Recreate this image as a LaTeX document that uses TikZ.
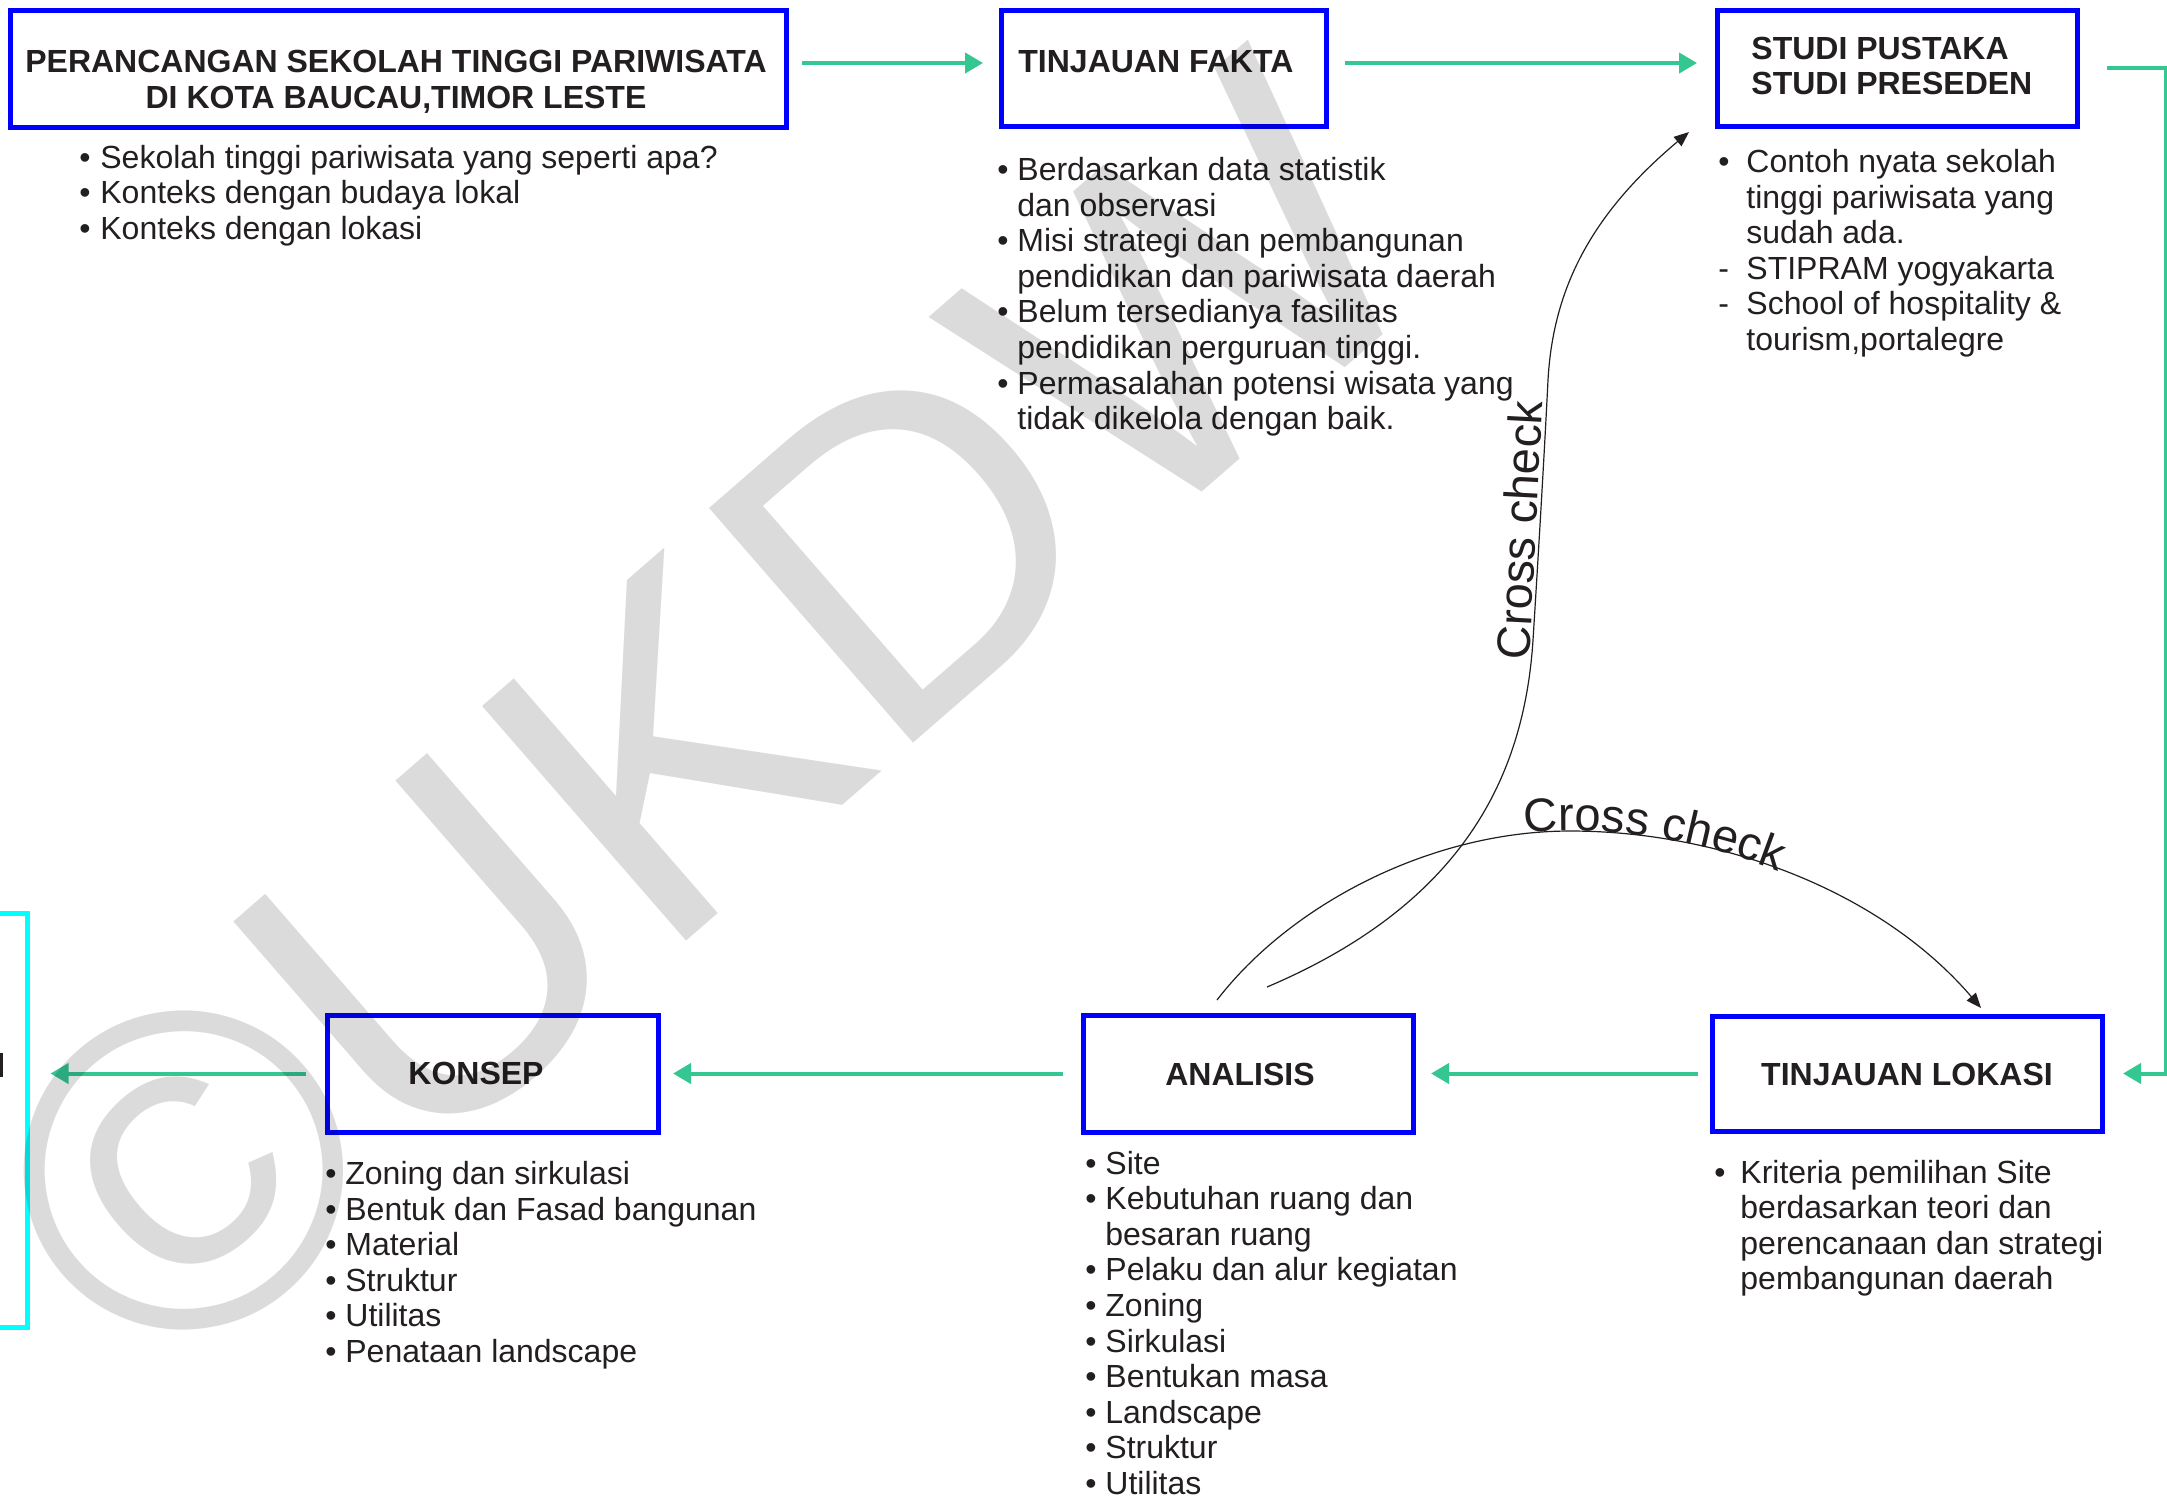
\documentclass[tikz,border=0pt]{standalone}
\usepackage{fontspec}
\setmainfont{Liberation Sans}
\usepackage{array}
\usetikzlibrary{arrows.meta,decorations.text}
\definecolor{txt}{RGB}{35,31,32}
\definecolor{gline}{RGB}{52,199,146}
\definecolor{bbox}{RGB}{0,0,255}
\definecolor{cbox}{RGB}{0,255,255}
\tikzset{
  bluebox/.style={draw=bbox, line width=2.5pt, inner sep=0pt, outer sep=0pt},
  ttl/.style={font=\fontsize{16}{17.8}\selectfont\bfseries, text=txt, inner sep=0pt},
  lst/.style={font=\fontsize{16}{17.8}\selectfont, text=txt, inner sep=0pt, anchor=base west},
  garrow/.style={draw=gline, line width=2pt, -{Triangle[length=9pt,width=10pt]}},
  karrow/.style={draw=txt, line width=0.6pt, -{Triangle[length=7.5pt,width=6pt]}},
  cc/.style={font=\fontsize{23.5}{28}\selectfont, text=txt, inner sep=0pt},
}
\begin{document}
\begin{tikzpicture}[x=0.5pt,y=-0.5pt]
\useasboundingbox (0,0) rectangle (2167,1500);
\clip (0,0) rectangle (2167,1500);
\fill[white] (0,0) rectangle (2167,1500);

% boxes
\node[bluebox, minimum width=388pt, minimum height=58.5pt] (b1) at (398,68.5) {};
\node[bluebox, minimum width=162.5pt, minimum height=58pt] (b2) at (1163.5,68) {};
\node[bluebox, minimum width=180pt, minimum height=58pt] (b3) at (1897,68) {};
\node[bluebox, minimum width=195pt, minimum height=57.5pt] (lok) at (1907,1073.5) {};
\node[bluebox, minimum width=165pt, minimum height=58.5pt] (ana) at (1248,1073.5) {};
\node[bluebox, minimum width=165.5pt, minimum height=58.5pt] (kon) at (492.5,1073.5) {};
\node[draw=cbox, line width=2.5pt, minimum width=163.5pt, minimum height=207pt, inner sep=0pt] (cyan) at (-136.5,1120) {};

% titles
\node[ttl, anchor=base] (b1t) at (396,72.5) {\begin{tabular}[t]{@{}c@{}}PERANCANGAN SEKOLAH TINGGI PARIWISATA\\DI KOTA BAUCAU,TIMOR LESTE\end{tabular}};
\node[ttl, anchor=base west] (b2t) at (1018,72.5) {TINJAUAN FAKTA};
\node[ttl, anchor=base west] (b3t) at (1751,59) {\begin{tabular}[t]{@{}l@{}}STUDI PUSTAKA\\STUDI PRESEDEN\end{tabular}};
\node[ttl, anchor=base] (lokt) at (1907,1085.5) {TINJAUAN LOKASI};
\node[ttl, anchor=base] (anat) at (1240,1085) {ANALISIS};
\node[ttl, anchor=base] (kont) at (476,1084.5) {KONSEP};

% lists
\node[lst] (l1) at (79,168) {\begin{tabular}[t]{@{}w{l}{10.5pt}@{}l@{}}
\textbullet & Sekolah tinggi pariwisata yang seperti apa?\\
\textbullet & Konteks dengan budaya lokal\\
\textbullet & Konteks dengan lokasi
\end{tabular}};
\node[lst] (l2) at (997,180.5) {\begin{tabular}[t]{@{}w{l}{10pt}@{}l@{}}
\textbullet & Berdasarkan data statistik\\
 & dan observasi\\
\textbullet & Misi strategi dan pembangunan\\
 & pendidikan dan pariwisata daerah\\
\textbullet & Belum tersedianya fasilitas\\
 & pendidikan perguruan tinggi.\\
\textbullet & Permasalahan potensi wisata yang\\
 & tidak dikelola dengan baik.
\end{tabular}};
\node[lst] (l3) at (1718,172.5) {\begin{tabular}[t]{@{}w{l}{14pt}@{}l@{}}
\textbullet & Contoh nyata sekolah\\
 & tinggi pariwisata yang\\
 & sudah ada.\\
- & STIPRAM yogyakarta\\
- & School of hospitality \&\\
 & tourism,portalegre
\end{tabular}};
\node[lst] (l4) at (1714,1183) {\begin{tabular}[t]{@{}w{l}{13pt}@{}l@{}}
\textbullet & Kriteria pemilihan Site\\
 & berdasarkan teori dan\\
 & perencanaan dan strategi\\
 & pembangunan daerah
\end{tabular}};
\node[lst] (l5) at (1085,1174) {\begin{tabular}[t]{@{}w{l}{10pt}@{}l@{}}
\textbullet & Site\\
\textbullet & Kebutuhan ruang dan\\
 & besaran ruang\\
\textbullet & Pelaku dan alur kegiatan\\
\textbullet & Zoning\\
\textbullet & Sirkulasi\\
\textbullet & Bentukan masa\\
\textbullet & Landscape\\
\textbullet & Struktur\\
\textbullet & Utilitas
\end{tabular}};
\node[lst] (l6) at (325,1184.5) {\begin{tabular}[t]{@{}w{l}{10pt}@{}l@{}}
\textbullet & Zoning dan sirkulasi\\
\textbullet & Bentuk dan Fasad bangunan\\
\textbullet & Material\\
\textbullet & Struktur\\
\textbullet & Utilitas\\
\textbullet & Penataan landscape
\end{tabular}};

% green connectors
\draw[garrow, shorten <=8pt, shorten >=9pt] ([yshift=2.75pt]b1.east) -- ([yshift=2.5pt]b2.west);
\draw[garrow, shorten <=9.5pt, shorten >=10pt] ([yshift=2.5pt]b2.east) -- ([yshift=2.5pt]b3.west);
\coordinate (rc) at (2166,68);
\draw[garrow, shorten <=15pt, shorten >=10.5pt] (b3.east) -- (rc) |- (lok.east);
\draw[garrow, shorten <=7pt, shorten >=9pt] (lok.west) -- (ana.east);
\draw[garrow, shorten <=10pt, shorten >=7.5pt] (ana.west) -- (kon.east);
\draw[garrow, shorten <=10.5pt, shorten >=10.5pt] (kon.west) -- (kon.west -| cyan.east);

% cross check curves
\coordinate (c1s) at (1267,987);
\coordinate (c1e) at (1689,132);
\draw[karrow] (c1s) .. controls (1460,905) and (1524,780) .. (1533,640)
  .. controls (1538,560) and (1544,460) .. (1548,380)
  .. controls (1553,290) and (1590,215) .. (c1e);
\coordinate (c2s) at (1217,1000);
\coordinate (c2e) at (1981,1008);
\draw[karrow] (c2s) .. controls (1290,905) and (1430,831) .. (1570,831) .. controls (1720,831) and (1880,890) .. (c2e);

\node[cc, rotate=87, anchor=base] (cc1) at (1536,531) {Cross check};
\path[decorate, decoration={text along path, text={|\color{txt}\fontsize{23.5}{28}\selectfont|Cross check}, raise=0.5pt}] (1525,834) .. controls (1620,825) and (1730,845) .. (1830,895);

% cut-off mark at left edge
\fill[txt] (0,1053) rectangle (2.5,1077);

% watermark
\node[rotate=41, text=black, text opacity=0.14, font=\fontsize{226}{226}\selectfont, inner sep=0pt] (wm) at (705,718) {©UKDW};
\end{tikzpicture}
\end{document}
